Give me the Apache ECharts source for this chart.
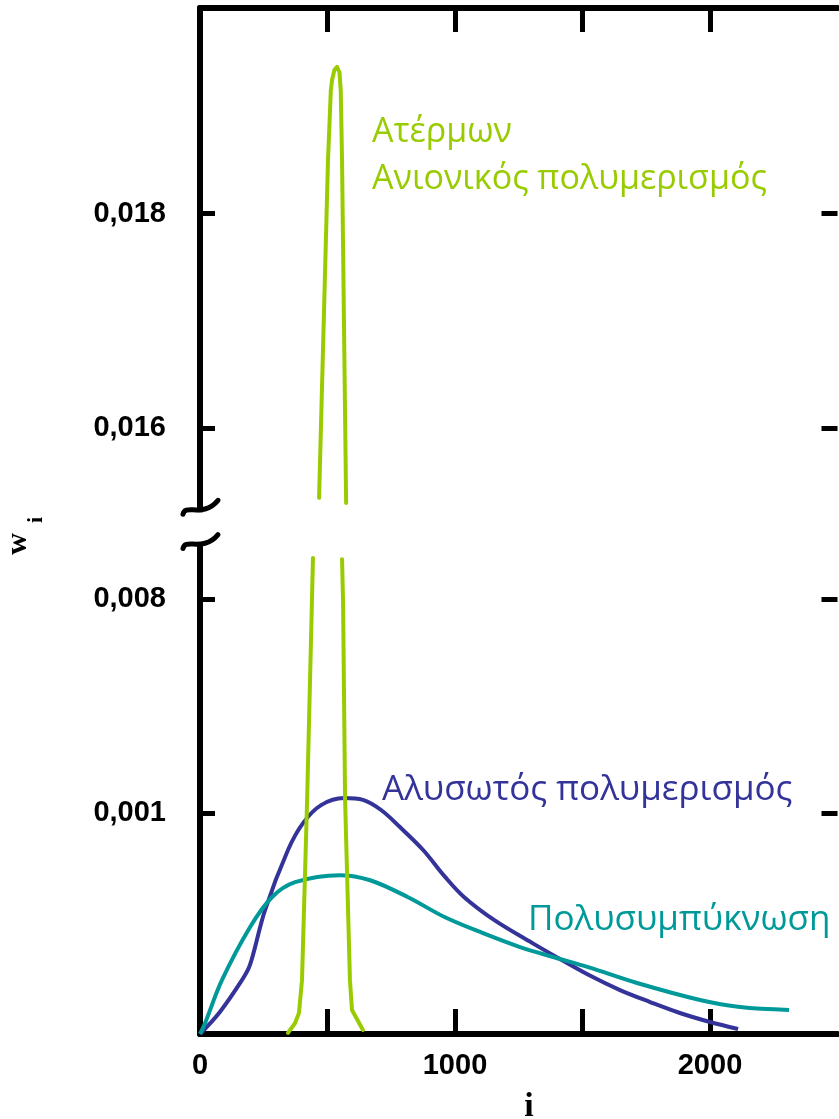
<!DOCTYPE html>
<html>
<head>
<meta charset="utf-8">
<script src="https://cdn.jsdelivr.net/npm/echarts@6/dist/echarts.min.js"></script>
<style>
  html, body { margin: 0; padding: 0; background: #ffffff; }
  #chart { width: 839px; height: 1119px; }
</style>
</head>
<body>
<div id="chart"></div>
<script>
// ---- axis ticks ----
const iTickValues = [500, 1000, 1500, 2000];
const iLabelValues = [0, 1000, 2000];
const wTickValues = [0.001, 0.008, 0.016, 0.018];
const wTickLabels = ['0,001', '0,008', '0,016', '0,018'];

// ---- Polycondensation (step-growth) ----
const condI = [0, 20, 86, 196, 282, 373, 549, 667, 816, 961, 1110, 1255, 1388, 1522, 1714, 1961, 2118, 2310];
const condW = [0, 0.00005, 0.000244, 0.000484, 0.00062, 0.000688, 0.00072, 0.000697, 0.00062, 0.000529,
               0.000457, 0.000394, 0.000348, 0.000303, 0.000231, 0.000154, 0.000122, 0.000109];

// ---- Chain polymerization ----
const chainI = [0, 78, 165, 196, 255, 345, 404, 475, 565, 639, 710, 784, 875, 961, 1035, 1153, 1302, 1404, 1525,
                1647, 1765, 1882, 2000, 2110];
const chainW = [0, 0.0001, 0.000245, 0.000313, 0.000562, 0.000834, 0.000956, 0.00127, 0.0015, 0.00144, 0.00111,
                0.000938, 0.000834, 0.000712, 0.000621, 0.000517, 0.000413, 0.000345, 0.000267,
                0.000199, 0.000145, 0.0000952, 0.0000544, 0.0000227];

// ---- Living anionic polymerization (null = hidden across the axis break) ----
const livingI = [345, 373, 388, 400, 420, 439, 443, null, 467, 502, 513, 518, 527, 537, 547, 549, 552, 557, 573,
                 null, 557, 561, 569, 588, 596, 639];
const livingW = [0.000005, 0.00005, 0.000095, 0.000244, 0.00142, 0.00793, 0.00992, null, 0.01273, 0.0185,
                 0.01915, 0.01925, 0.01934, 0.01937, 0.01932, 0.01925, 0.01915, 0.0185, 0.01249,
                 null, 0.00987, 0.00793, 0.00142, 0.000244, 0.000109, 0.000018];

// Piecewise scale of the broken w axis: w stops -> axis units
const W_STOPS = [0, 0.001, 0.008, 0.016, 0.018];
const U_STOPS = [0, 1.03, 2.03, 2.83, 3.83];
const U_MAX = 4.79;
function wToU(w) {
  if (w == null) return null;
  for (let k = 1; k < W_STOPS.length; k++) {
    if (w <= W_STOPS[k] || k === W_STOPS.length - 1) {
      const t = (w - W_STOPS[k - 1]) / (W_STOPS[k] - W_STOPS[k - 1]);
      return U_STOPS[k - 1] + t * (U_STOPS[k] - U_STOPS[k - 1]);
    }
  }
}
const tickU = wTickValues.map(wToU);
function labelForU(u) {
  let best = 0;
  tickU.forEach((v, k) => { if (Math.abs(v - u) < Math.abs(tickU[best] - u)) best = k; });
  return wTickLabels[best];
}
const pairs = (xs, ys) => xs.map((x, k) => [x, wToU(ys[k])]);

const GREEN = '#99cc00', BLUE = '#333399', TEAL = '#009999';
const AX = '#000000';
const labelFont = { fontFamily: 'Liberation Sans', fontWeight: 'bold', fontSize: 29, color: AX };

const chart = echarts.init(document.getElementById('chart'), null, { renderer: 'canvas' });

chart.setOption({
  backgroundColor: '#ffffff',
  animation: false,
  grid: { left: 200, right: 1.5, top: 8, bottom: 85 },
  xAxis: [
    {
      type: 'value', position: 'bottom', min: 0, max: 2500, interval: 500,
      axisLine: { show: true, onZero: false, lineStyle: { color: AX, width: 6 } },
      axisTick: { show: true, inside: true, length: 25, customValues: iTickValues, lineStyle: { color: AX, width: 5 } },
      axisLabel: Object.assign({ show: true, margin: 17, customValues: iLabelValues, formatter: v => String(v) }, labelFont),
      splitLine: { show: false }
    },
    {
      type: 'value', position: 'top', min: 0, max: 2500, interval: 500,
      axisLine: { show: true, onZero: false, lineStyle: { color: AX, width: 6 } },
      axisTick: { show: true, inside: true, length: 24, customValues: iTickValues, lineStyle: { color: AX, width: 5 } },
      axisLabel: { show: false },
      splitLine: { show: false }
    }
  ],
  yAxis: [
    {
      type: 'value', position: 'left', min: 0, max: U_MAX,
      axisLine: { show: true, onZero: false, lineStyle: { color: AX, width: 6 } },
      axisTick: { show: true, inside: true, length: 15, customValues: tickU, lineStyle: { color: AX, width: 5 } },
      axisLabel: Object.assign({ show: true, margin: 34, customValues: tickU, formatter: labelForU }, labelFont),
      splitLine: { show: false }
    },
    {
      type: 'value', position: 'right', min: 0, max: U_MAX,
      axisLine: { show: false, onZero: false },
      axisTick: { show: true, inside: true, length: 16, customValues: tickU, lineStyle: { color: AX, width: 5 } },
      axisLabel: { show: false },
      splitLine: { show: false }
    }
  ],
  series: [
    {
      name: 'Αλυσωτός πολυμερισμός', type: 'line', data: pairs(chainI, chainW),
      smooth: 0.35, showSymbol: false, symbol: 'none',
      lineStyle: { color: BLUE, width: 4 }, z: 2
    },
    {
      name: 'Πολυσυμπύκνωση', type: 'line', data: pairs(condI, condW),
      smooth: 0.35, showSymbol: false, symbol: 'none',
      lineStyle: { color: TEAL, width: 4 }, z: 3
    },
    {
      name: 'Ατέρμων Ανιονικός πολυμερισμός', type: 'line', data: pairs(livingI, livingW),
      smooth: false, connectNulls: false, showSymbol: false, symbol: 'none',
      lineStyle: { color: GREEN, width: 4, join: 'round', cap: 'round' }, z: 4
    }
  ]
});

// Axis break marks on the w axis and the text annotations
const axisX = chart.convertToPixel({ xAxisIndex: 0 }, 0);
const brkUpper = chart.convertToPixel({ yAxisIndex: 0 }, 2.445);
const brkLower = chart.convertToPixel({ yAxisIndex: 0 }, 2.285);
function tilde(cx, cy) {
  return {
    type: 'bezierCurve', z: 101,
    shape: { x1: cx - 17, y1: cy + 4, cpx1: cx - 15, cpy1: cy - 7, cpx2: cx + 3, cpy2: cy + 8, x2: cx + 18, y2: cy - 10 },
    style: { stroke: AX, lineWidth: 5, fill: null, lineCap: 'round' }
  };
}
function note(text, x, y, color, size) {
  return { type: 'text', z: 102, x: x, y: y,
    style: { text: text, fill: color, font: size + 'px "Open Sans"', verticalAlign: 'middle' } };
}
chart.setOption({
  graphic: [
    { type: 'rect', z: 100, shape: { x: axisX - 6, y: brkUpper + 2, width: 12, height: brkLower - brkUpper - 4 },
      style: { fill: '#ffffff' } },
    tilde(axisX, brkUpper),
    tilde(axisX, brkLower),
    note('Ατέρμων', 372, 132, GREEN, 34),
    note('Ανιονικός πολυμερισμός', 372, 179, GREEN, 34),
    note('Αλυσωτός πολυμερισμός', 382, 790, BLUE, 35),
    note('Πολυσυμπύκνωση', 528, 920, TEAL, 35),
    // axis titles
    { type: 'text', z: 102, x: 529, y: 1124,
      style: { text: 'i', fill: AX, font: 'bold 34px "Liberation Serif"', align: 'center', verticalAlign: 'bottom' } },
    { type: 'text', z: 102, x: 18, y: 544, rotation: Math.PI / 2,
      style: { text: 'w', fill: AX, font: 'bold 30px "Liberation Serif"', align: 'center', verticalAlign: 'middle' } },
    { type: 'text', z: 102, x: 36, y: 520, rotation: Math.PI / 2,
      style: { text: 'i', fill: AX, font: 'bold 22px "Liberation Serif"', align: 'center', verticalAlign: 'middle' } }
  ]
});
</script>
</body>
</html>
